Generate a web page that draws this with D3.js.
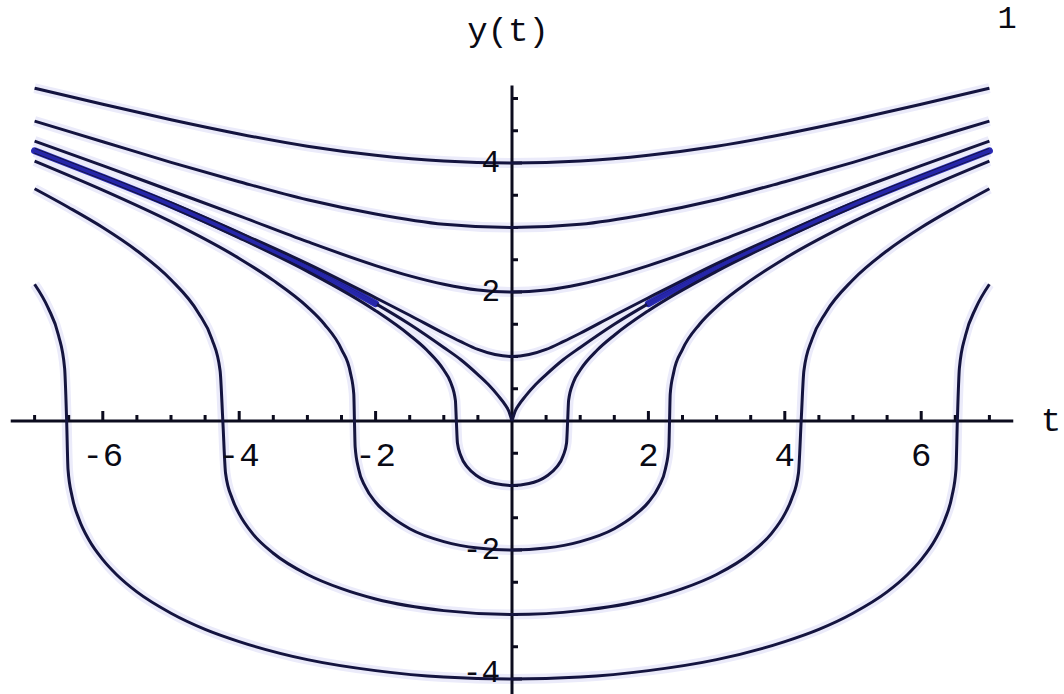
<!DOCTYPE html>
<html>
<head>
<meta charset="utf-8">
<script src="https://cdn.jsdelivr.net/npm/d3@7/dist/d3.min.js"></script>
<style>
  html, body { margin: 0; padding: 0; background: #ffffff; }
  svg { display: block; }
  text { font-family: "Liberation Mono", "DejaVu Sans Mono", monospace; fill: #0a0a14; }
</style>
</head>
<body>
<svg id="chart" width="1064" height="694"></svg>
<script>
// Solution curves y(t), one list of [t, y] points per initial value y(0).
const curveY4 = [[-7,5.16],[-6,4.91],[-5,4.67],[-4,4.45],[-3,4.26],[-2,4.12],[-1,4.03],[0,4],
  [1,4.03],[2,4.12],[3,4.26],[4,4.45],[5,4.67],[6,4.91],[7,5.16]];
const curveY3 = [[-7,4.65],[-6,4.33],[-5,4.01],[-4,3.71],[-3,3.43],[-2,3.21],[-1,3.05],[0,3],
  [1,3.05],[2,3.21],[3,3.43],[4,3.71],[5,4.01],[6,4.33],[7,4.65]];
const curveY2 = [[-7,4.34],[-6,3.96],[-5,3.57],[-4,3.18],[-3,2.78],[-2,2.41],[-1.5,2.25],[-1,2.12],[-0.5,2.03],[0,2],
  [0.5,2.03],[1,2.12],[1.5,2.25],[2,2.41],[3,2.78],[4,3.18],[5,3.57],[6,3.96],[7,4.34]];
const curveY1 = [[-7,4.21],[-6,3.80],[-5,3.38],[-4,2.92],[-3,2.44],[-2,1.91],[-1.5,1.64],[-1,1.36],[-0.75,1.23],[-0.5,1.11],[-0.25,1.03],[0,1],
  [0.25,1.03],[0.5,1.11],[0.75,1.23],[1,1.36],[1.5,1.64],[2,1.91],[3,2.44],[4,2.92],[5,3.38],[6,3.80],[7,4.21]];
// y(0) = 0 has a cusp at the origin, so each branch is its own list
const curveY0Left = [[-7,4.19],[-6,3.78],[-5,3.35],[-4,2.88],[-3,2.38],[-2,1.82],[-1.5,1.50],[-1,1.14],[-0.75,0.95],
  [-0.5,0.72],[-0.35,0.57],[-0.2,0.39],[-0.1,0.25],[-0.05,0.16],[0,0]];
const curveY0Right = [[0,0],[0.05,0.16],[0.1,0.25],[0.2,0.39],[0.35,0.57],[0.5,0.72],[0.75,0.95],[1,1.14],[1.5,1.50],
  [2,1.82],[3,2.38],[4,2.88],[5,3.35],[6,3.78],[7,4.19]];
const curveYm1 = [[-7,4.17],[-6,3.76],[-5,3.32],[-4,2.84],[-3,2.32],[-2,1.71],[-1.5,1.33],[-1.25,1.10],[-1,0.79],[-0.9,0.60],
  [-0.83,0.32],[-0.816,0],[-0.8,-0.34],[-0.75,-0.54],[-0.65,-0.72],[-0.5,-0.86],[-0.25,-0.97],[0,-1],
  [0.25,-0.97],[0.5,-0.86],[0.65,-0.72],[0.75,-0.54],[0.8,-0.34],[0.816,0],[0.83,0.32],[0.9,0.60],[1,0.79],[1.25,1.10],
  [1.5,1.33],[2,1.71],[3,2.32],[4,2.84],[5,3.32],[6,3.76],[7,4.17]];
const curveYm2 = [[-7,4.03],[-6,3.58],[-5,3.09],[-4,2.52],[-3.5,2.18],[-3,1.77],[-2.75,1.50],[-2.5,1.11],[-2.37,0.75],[-2.32,0.42],
  [-2.31,0],[-2.3,-0.40],[-2.25,-0.74],[-2.15,-1.02],[-2,-1.26],[-1.8,-1.46],[-1.5,-1.67],[-1,-1.87],[-0.5,-1.97],[0,-2],
  [0.5,-1.97],[1,-1.87],[1.5,-1.67],[1.8,-1.46],[2,-1.26],[2.15,-1.02],[2.25,-0.74],[2.3,-0.40],[2.31,0],[2.32,0.42],
  [2.37,0.75],[2.5,1.11],[2.75,1.50],[3,1.77],[3.5,2.18],[4,2.52],[5,3.09],[6,3.58],[7,4.03]];
const curveYm3 = [[-7,3.60],[-6.5,3.31],[-6,3.00],[-5.5,2.64],[-5,2.19],[-4.6,1.68],[-4.4,1.27],[-4.28,0.78],[-4.24,0],
  [-4.2,-0.81],[-4.1,-1.21],[-4,-1.44],[-3.8,-1.75],[-3.5,-2.05],[-3,-2.38],[-2.5,-2.60],[-2,-2.76],[-1,-2.94],[0,-3],
  [1,-2.94],[2,-2.76],[2.5,-2.60],[3,-2.38],[3.5,-2.05],[3.8,-1.75],[4,-1.44],[4.1,-1.21],[4.2,-0.81],[4.24,0],
  [4.28,0.78],[4.4,1.27],[4.6,1.68],[5,2.19],[5.5,2.64],[6,3.00],[6.5,3.31],[7,3.60]];
const curveYm4 = [[-7,2.12],[-6.8,1.75],[-6.65,1.33],[-6.56,0.82],[-6.53,0],[-6.51,-0.75],[-6.45,-1.17],[-6.35,-1.52],
  [-6.2,-1.85],[-6,-2.15],[-5.8,-2.38],[-5.5,-2.65],[-5,-2.98],[-4.5,-3.23],[-4,-3.42],[-3,-3.70],[-2,-3.87],[-1,-3.97],[0,-4],
  [1,-3.97],[2,-3.87],[3,-3.70],[4,-3.42],[4.5,-3.23],[5,-2.98],[5.5,-2.65],[5.8,-2.38],[6,-2.15],[6.2,-1.85],[6.35,-1.52],
  [6.45,-1.17],[6.51,-0.75],[6.53,0],[6.56,0.82],[6.65,1.33],[6.8,1.75],[7,2.12]];

const curves = [curveY4, curveY3, curveY2, curveY1, curveY0Left, curveY0Right, curveYm1, curveYm2, curveYm3, curveYm4];

// Axis ticks and labels
const xMajorTicks = [-6, -4, -2, 2, 4, 6];
const xMinorTicks = [-7, -6.5, -5.5, -5, -4.5, -3.5, -3, -2.5, -1.5, -1, -0.5, 0.5, 1, 1.5, 2.5, 3, 3.5, 4.5, 5, 5.5, 6.5, 7];
const yMajorTicks = [-4, -2, 2, 4];
const yMinorTicks = [-3.5, -3, -2.5, -1.5, -1, -0.5, 0.5, 1, 1.5, 2.5, 3, 3.5, 4.5, 5];
const xAxisExtent = [-7.35, 7.35];
const yAxisExtent = [-4.5, 5.2];
const xAxisTitle = "t";
const yAxisTitle = "y(t)";
const cornerText = "1";

const W = 1064, H = 694;
const svg = d3.select("#chart");
const x = d3.scaleLinear().domain([-7, 7]).range([512 - 7 * 68.2, 512 + 7 * 68.2]);
const y = d3.scaleLinear().domain([-4, 4]).range([421 + 4 * 64.5, 421 - 4 * 64.5]);

const line = d3.line().x(d => x(d[0])).y(d => y(d[1])).curve(d3.curveMonotoneX);

const ink = "#0c0c1e";
const curveInk = "#14143f";

// soft fringe along each curve
svg.append("g").selectAll("path").data(curves).join("path")
  .attr("d", line).attr("fill", "none")
  .attr("stroke", "#ebebfa").attr("stroke-width", 10).attr("stroke-linejoin", "round");

// axes
svg.append("line")
  .attr("x1", x(xAxisExtent[0])).attr("x2", x(xAxisExtent[1]))
  .attr("y1", y(0)).attr("y2", y(0))
  .attr("stroke", ink).attr("stroke-width", 3);
svg.append("line")
  .attr("x1", x(0)).attr("x2", x(0))
  .attr("y1", y(yAxisExtent[1])).attr("y2", y(yAxisExtent[0]))
  .attr("stroke", ink).attr("stroke-width", 3);

// ticks (pointing up from the t axis, right from the y axis)
const tickG = svg.append("g").attr("stroke", ink).attr("stroke-width", 3);
tickG.selectAll(".xmaj").data(xMajorTicks).join("line")
  .attr("x1", d => x(d)).attr("x2", d => x(d)).attr("y1", y(0)).attr("y2", y(0) - 10);
tickG.selectAll(".xmin").data(xMinorTicks).join("line")
  .attr("x1", d => x(d)).attr("x2", d => x(d)).attr("y1", y(0)).attr("y2", y(0) - 6);
tickG.selectAll(".ymaj").data(yMajorTicks).join("line")
  .attr("x1", x(0)).attr("x2", x(0) + 10).attr("y1", d => y(d)).attr("y2", d => y(d));
tickG.selectAll(".ymin").data(yMinorTicks).join("line")
  .attr("x1", x(0)).attr("x2", x(0) + 6).attr("y1", d => y(d)).attr("y2", d => y(d));

// where the three central curves run together they merge into a blue band
const bandLeft = curveY0Left.filter(d => d[0] <= -1.8);
const bandRight = curveY0Right.filter(d => d[0] >= 1.8);
svg.append("g").selectAll("path").data([bandLeft, bandRight]).join("path")
  .attr("d", line).attr("fill", "none")
  .attr("stroke", "#2a2ab4").attr("stroke-width", 7).attr("stroke-linecap", "round");

// solution curves
svg.append("g").selectAll("path").data(curves).join("path")
  .attr("d", line).attr("fill", "none")
  .attr("stroke", curveInk).attr("stroke-width", 3).attr("stroke-linejoin", "round");

// blue core of the band, over the dark strokes
svg.append("g").selectAll("path").data([bandLeft, bandRight]).join("path")
  .attr("d", line).attr("fill", "none")
  .attr("stroke", "#2626aa").attr("stroke-width", 3.5).attr("stroke-linecap", "round");

// tick labels
const fs = 34;
svg.append("g").selectAll("text").data(xMajorTicks).join("text")
  .attr("x", d => x(d)).attr("y", y(0) + 45)
  .attr("text-anchor", "middle").attr("font-size", fs)
  .text(d => d < 0 ? "-" + Math.abs(d) : String(d));
// y labels sit beside their ticks, kept clear of the bottom edge
svg.append("g").selectAll("text").data(yMajorTicks).join("text")
  .attr("x", x(0) - 12).attr("y", d => Math.min(y(d) + 9, H - 12))
  .attr("text-anchor", "end").attr("font-size", 31)
  .text(d => d < 0 ? "-" + Math.abs(d) : String(d));

// axis titles
svg.append("text").attr("x", 1051).attr("y", y(0) + 10)
  .attr("text-anchor", "middle").attr("font-size", fs).text(xAxisTitle);
svg.append("text").attr("x", 508).attr("y", 41)
  .attr("text-anchor", "middle").attr("font-size", fs).text(yAxisTitle);
svg.append("text").attr("x", 1007).attr("y", 28)
  .attr("text-anchor", "middle").attr("font-size", 32).text(cornerText);
</script>
</body>
</html>
